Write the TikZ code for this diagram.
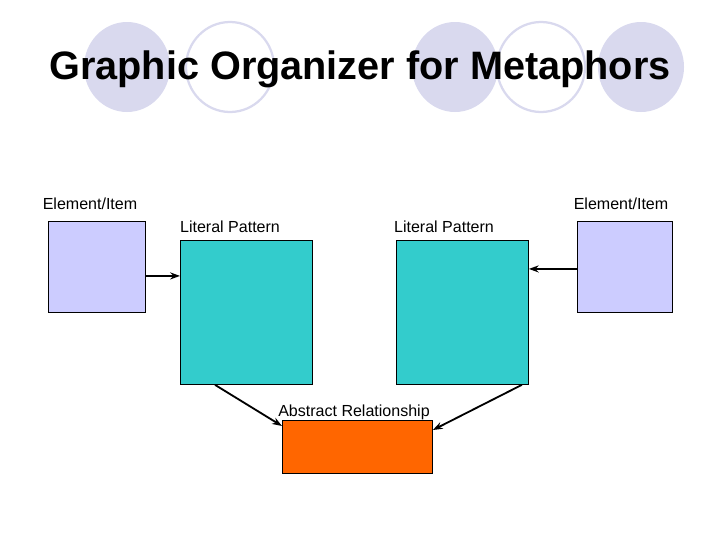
\documentclass[tikz,border=0pt]{standalone}
\usepackage{fontspec}
\setmainfont{Liberation Sans}
\usetikzlibrary{arrows.meta}
\definecolor{ring}{RGB}{217,217,238}
\definecolor{elem}{RGB}{204,204,255}
\definecolor{lit}{RGB}{51,204,204}
\definecolor{absr}{RGB}{255,102,0}

\begin{document}
\begin{tikzpicture}[x=0.025cm, y=-0.025cm, >={Stealth[length=7pt,width=5pt]},
    box/.style={draw=black, line width=0.6pt, inner sep=0pt, anchor=north west},
    lbl/.style={font=\fontsize{11.4}{13}\selectfont, inner sep=0pt},
    link/.style={->, line width=1.3pt}]
  \useasboundingbox (0,0) rectangle (720,540);
  % circulos decorativos detras del titulo
  \foreach \cx in {127,455,641}
    \fill[ring] (\cx,67) ellipse [x radius=43, y radius=45];
  \foreach \cx in {230,541}
    \draw[ring, line width=1.6pt] (\cx,67) ellipse [x radius=44, y radius=45];
  \node (title) at (360,69) {\fontsize{28.2}{34}\selectfont\bfseries Graphic Organizer for Metaphors};
  % cajas
  \node[box, fill=elem, minimum width=97*0.025cm, minimum height=91*0.025cm] (elemL) at (48,221) {};
  \node[box, fill=elem, minimum width=95*0.025cm, minimum height=91*0.025cm] (elemR) at (577,221) {};
  \node[box, fill=lit, minimum width=132*0.025cm, minimum height=144*0.025cm] (litL) at (180,240) {};
  \node[box, fill=lit, minimum width=132*0.025cm, minimum height=144*0.025cm] (litR) at (396,240) {};
  \node[box, fill=absr, minimum width=150*0.025cm, minimum height=53*0.025cm] (abs) at (282,420) {};
  % etiquetas
  \node[lbl] (elemLtxt) at (90,204) {Element/Item};
  \node[lbl] (elemRtxt) at (621,204) {Element/Item};
  \node[lbl] (litLtxt) at (230,227) {Literal Pattern};
  \node[lbl] (litRtxt) at (444,227) {Literal Pattern};
  \node[lbl] (abstxt) at (354,412) {Abstract Relationship};
  % flechas
  \draw[link] ([yshift=-9*0.025cm]elemL.east) -- ([yshift=-9*0.025cm]elemL.east -| litL.west);
  \draw[link] ([yshift=-2*0.025cm]elemR.west) -- ([yshift=-2*0.025cm]elemR.west -| litR.east);
  \draw[link] ([xshift=35*0.025cm]litL.south west) -- ([yshift=-6*0.025cm]abs.north west);
  \draw[link] ([xshift=-7*0.025cm]litR.south east) -- ([yshift=-10*0.025cm]abs.north east);
\end{tikzpicture}
\end{document}
